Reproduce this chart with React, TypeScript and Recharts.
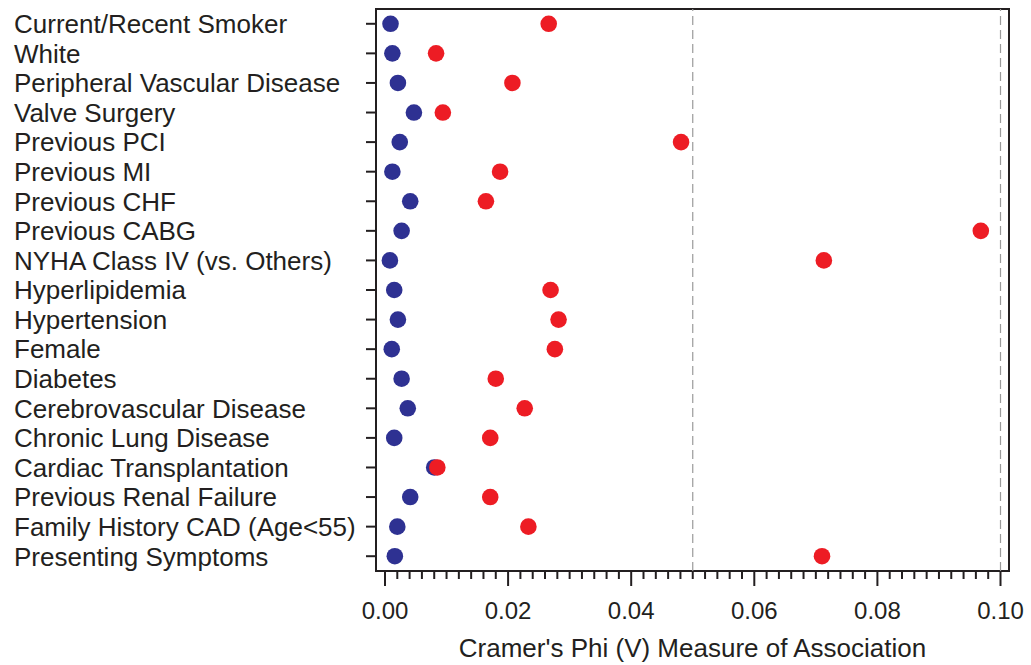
import { ScatterChart, Scatter, XAxis, YAxis, ReferenceLine, ReferenceArea } from 'recharts';

// row labels, top to bottom
const factors = [
  'Current/Recent Smoker',
  'White',
  'Peripheral Vascular Disease',
  'Valve Surgery',
  'Previous PCI',
  'Previous MI',
  'Previous CHF',
  'Previous CABG',
  'NYHA Class IV (vs. Others)',
  'Hyperlipidemia',
  'Hypertension',
  'Female',
  'Diabetes',
  'Cerebrovascular Disease',
  'Chronic Lung Disease',
  'Cardiac Transplantation',
  'Previous Renal Failure',
  'Family History CAD (Age<55)',
  'Presenting Symptoms',
];

const blueValues = [
  0.0009, 0.0012, 0.0021, 0.0047, 0.0024, 0.0012, 0.0041, 0.0027, 0.0008, 0.0015,
  0.0021, 0.0011, 0.0027, 0.0037, 0.0015, 0.008, 0.0041, 0.002, 0.0016,
];

const redValues = [
  0.0266, 0.0083, 0.0207, 0.0094, 0.0481, 0.0187, 0.0164, 0.0968, 0.0713, 0.0269,
  0.0282, 0.0276, 0.018, 0.0227, 0.0171, 0.0085, 0.0171, 0.0233, 0.071,
];

const xTicks = Array.from({ length: 51 }, (_, i) => i * 0.002);
const dashedLines = [0.05, 0.1];

const xTitle = "Cramer's Phi (V) Measure of Association";
const xDomain: [number, number] = [-0.00146, 0.10138];

const blueData = factors.map((name, i) => ({ name, v: blueValues[i] }));
const redData = factors.map((name, i) => ({ name, v: redValues[i] }));

const FONT = '"Liberation Sans", Arial, sans-serif';
const INK = '#231f20';

// every 0.02 gets a long tick and a label
const isMajor = (v: number) => Math.round(v * 1000) % 20 === 0;

function XTick({ x, y, payload }: any) {
  const major = isMajor(payload.value);
  return (
    <g>
      <line x1={x} x2={x} y1={y} y2={y + (major ? 15 : 8)} stroke={INK} strokeWidth={2} />
      {major && (
        <text x={x} y={y + 48} textAnchor="middle" fontSize={24} fontFamily={FONT} fill={INK}>
          {payload.value.toFixed(2)}
        </text>
      )}
    </g>
  );
}

function YTick({ x, y, payload }: any) {
  return (
    <g>
      <line x1={x - 10} x2={x} y1={y} y2={y} stroke={INK} strokeWidth={2} />
      <text x={14} y={y + 9.3} textAnchor="start" fontSize={26} fontFamily={FONT} fill={INK}>
        {payload.value}
      </text>
    </g>
  );
}

export default function App() {
  return (
    <div style={{ position: 'absolute', left: 0, top: 0, background: '#fff' }}>
      <ScatterChart width={1031} height={665} margin={{ top: 9, right: 22, bottom: 0, left: 0 }}>
        <XAxis
          type="number"
          dataKey="v"
          domain={xDomain}
          ticks={xTicks}
          interval={0}
          allowDataOverflow
          axisLine={false}
          tickLine={false}
          tickSize={0}
          tickMargin={0}
          tick={<XTick />}
          height={94}
          label={{ value: xTitle, position: 'insideBottom', offset: 8, fontSize: 26, fontFamily: FONT, fill: INK }}
        />
        <YAxis
          type="category"
          dataKey="name"
          allowDuplicatedCategory={false}
          reversed
          interval={0}
          axisLine={false}
          tickLine={false}
          tickSize={0}
          tickMargin={0}
          tick={<YTick />}
          width={376}
        />
        {dashedLines.map((d) => (
          <ReferenceLine key={d} x={d} stroke="#9a9a9a" strokeWidth={1.2} strokeDasharray="9 5" />
        ))}
        <ReferenceArea x1={xDomain[0]} x2={xDomain[1]} fill="none" stroke={INK} strokeWidth={2} />
        <Scatter data={blueData} fill="#2e3192" shape={(p: any) => <circle cx={p.cx} cy={p.cy} r={8.3} fill="#2e3192" />} isAnimationActive={false} />
        <Scatter data={redData} fill="#ed1c24" shape={(p: any) => <circle cx={p.cx} cy={p.cy} r={8.3} fill="#ed1c24" />} isAnimationActive={false} />
      </ScatterChart>
    </div>
  );
}
